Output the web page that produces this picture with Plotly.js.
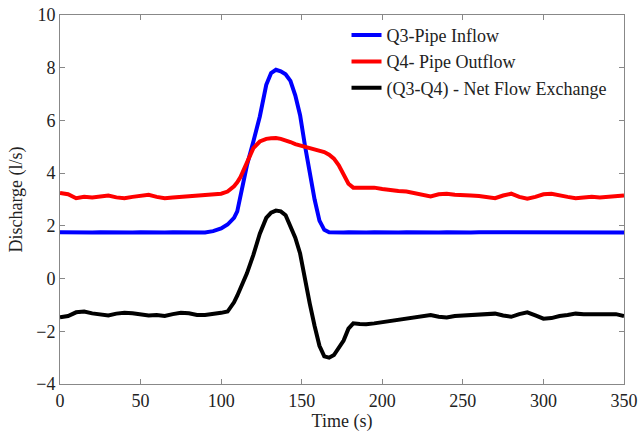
<!DOCTYPE html>
<html>
<head>
<meta charset="utf-8">
<script src="https://cdn.plot.ly/plotly-3.0.1.min.js"></script>
<style>html,body{margin:0;padding:0;background:#fff;}#chart{width:642px;height:440px;}</style>
</head>
<body>
<div id="chart"></div>
<script>
const time = [0,5,10,15,20,25,30,35,40,45,50,55,60,65,70,75,80,85,90,95,100,104,108,110,112,116,120,124,128,131,134,137,140,143,146,149,152,155,158,161,164,167,170,173,176,179,182,186,190,195,200,205,210,215,220,225,230,235,240,245,250,255,260,265,270,275,280,285,290,295,300,305,310,315,320,325,330,335,340,345,350];

const q3Inflow = [1.76,1.75,1.76,1.76,1.75,1.76,1.75,1.76,1.76,1.75,1.76,1.75,1.76,1.75,1.76,1.76,1.75,1.76,1.75,1.80,1.90,2.05,2.30,2.55,3.10,4.30,5.20,6.15,7.35,7.80,7.92,7.86,7.75,7.50,6.95,6.20,5.05,4.00,3.00,2.20,1.85,1.76,1.75,1.76,1.75,1.76,1.75,1.76,1.75,1.76,1.75,1.76,1.75,1.76,1.75,1.76,1.76,1.75,1.76,1.75,1.76,1.75,1.76,1.76,1.75,1.76,1.75,1.76,1.77,1.75,1.76,1.75,1.76,1.75,1.76,1.75,1.76,1.75,1.76,1.75,1.75];

const q4Outflow = [3.25,3.20,3.05,3.10,3.08,3.12,3.15,3.08,3.05,3.10,3.15,3.18,3.10,3.05,3.08,3.10,3.12,3.15,3.15,3.18,3.22,3.30,3.50,3.65,3.85,4.40,4.95,5.20,5.30,5.32,5.33,5.30,5.25,5.18,5.10,5.05,5.00,4.95,4.90,4.88,4.80,4.70,4.55,4.30,3.95,3.60,3.45,3.45,3.48,3.45,3.40,3.35,3.32,3.30,3.25,3.20,3.12,3.20,3.22,3.18,3.15,3.15,3.13,3.10,3.05,3.15,3.22,3.10,3.03,3.10,3.20,3.22,3.15,3.10,3.05,3.08,3.10,3.08,3.10,3.10,3.15];

const netExchange = [-1.47,-1.42,-1.28,-1.25,-1.32,-1.35,-1.40,-1.33,-1.30,-1.32,-1.35,-1.40,-1.38,-1.42,-1.35,-1.30,-1.32,-1.38,-1.38,-1.35,-1.30,-1.25,-0.90,-0.65,-0.35,0.20,0.90,1.70,2.30,2.50,2.58,2.55,2.40,2.00,1.55,0.95,-0.10,-0.95,-1.80,-2.55,-2.95,-3.00,-2.90,-2.65,-2.35,-1.90,-1.70,-1.72,-1.73,-1.70,-1.65,-1.60,-1.56,-1.52,-1.48,-1.42,-1.38,-1.45,-1.48,-1.42,-1.40,-1.40,-1.38,-1.35,-1.33,-1.40,-1.45,-1.35,-1.28,-1.40,-1.52,-1.50,-1.42,-1.38,-1.33,-1.35,-1.35,-1.37,-1.35,-1.35,-1.42];

const seriesNames = ['Q3-Pipe Inflow','Q4- Pipe Outflow','(Q3-Q4) - Net Flow Exchange'];
const seriesColors = ['#0000ff','#ff0000','#000000'];
const xTicks = [0,50,100,150,200,250,300,350];
const yTicks = [-4,-2,0,2,4,6,8,10];

const ys = [q3Inflow, q4Outflow, netExchange];
const traces = ys.map((y,i)=>({x: time, y: y, type:'scatter', mode:'lines', name: seriesNames[i], line:{color: seriesColors[i], width:4}}));

const ff = '"Liberation Serif", "Times New Roman", serif';
const axisCommon = {showgrid:false, zeroline:false, showline:true, linecolor:'#888', linewidth:1, mirror:'ticks', ticks:'inside', ticklen:5, tickcolor:'#888', tickfont:{family:ff, size:18, color:'#222'}};

const layout = {
  width:642, height:440,
  margin:{l:60, r:18, t:15, b:56},
  paper_bgcolor:'#fff', plot_bgcolor:'#fff',
  font: {family:ff, size:18, color:'#222'},
  showlegend:true,
  legend:{x:0.508, y:0.995, xanchor:'left', yanchor:'top', bgcolor:'rgba(0,0,0,0)', font:{family:ff, size:18, color:'#222'}, tracegroupgap:0},
  xaxis: Object.assign({}, axisCommon, {range:[0,350], tickvals:xTicks, title:{text:'Time (s)', font:{family:ff, size:18, color:'#222'}, standoff:4}}),
  yaxis: Object.assign({}, axisCommon, {range:[-4,10], tickvals:yTicks, title:{text:'Discharge (l/s)', font:{family:ff, size:18, color:'#222'}, standoff:8}})
};

Plotly.newPlot('chart', traces, layout, {displayModeBar:false, staticPlot:true});
</script>
</body>
</html>
